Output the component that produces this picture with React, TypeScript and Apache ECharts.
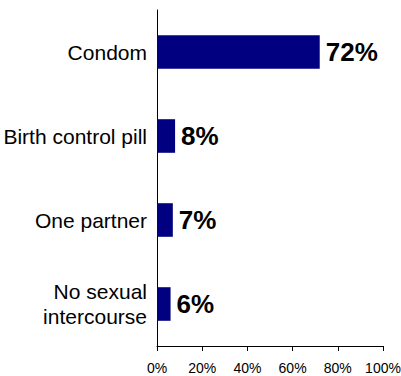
import React, { useEffect, useRef } from "react";
import * as echarts from "echarts";

const categories = ["Condom", "Birth control pill", "One partner", "No sexual\nintercourse"];
const values = [72, 8, 7, 6];
const xTicks = [0, 20, 40, 60, 80, 100];

const FONT = "'Liberation Sans', Arial, Helvetica, sans-serif";

export default function App() {
  const ref = useRef<HTMLDivElement>(null);
  useEffect(() => {
    if (!ref.current) return;
    const chart = echarts.init(ref.current, null, { renderer: "svg" });
    chart.setOption({
      animation: false,
      backgroundColor: "#ffffff",
      textStyle: { fontFamily: FONT },
      grid: { left: 157, right: 18, top: 10, bottom: 30, containLabel: false, outerBoundsMode: "none" },
      xAxis: {
        type: "value",
        min: xTicks[0],
        max: xTicks[xTicks.length - 1],
        interval: 20,
        axisLine: { show: true, lineStyle: { color: "#000", width: 1 } },
        axisTick: { show: true, length: 5, lineStyle: { color: "#000" } },
        splitLine: { show: false },
        axisLabel: {
          formatter: "{value}%",
          color: "#000",
          fontFamily: FONT,
          fontSize: 14,
          margin: 15,
        },
      },
      yAxis: {
        type: "category",
        data: categories,
        inverse: true,
        axisLine: { show: true, lineStyle: { color: "#000", width: 1 } },
        axisTick: { show: false },
        axisLabel: {
          color: "#000",
          fontFamily: FONT,
          fontSize: 21,
          lineHeight: 25,
          margin: 10,
          align: "right",
        },
      },
      series: [
        {
          type: "bar",
          data: values,
          barCategoryGap: "60%",
          itemStyle: { color: "#000080" },
          label: {
            show: true,
            position: "right",
            distance: 6,
            formatter: "{c}%",
            color: "#000",
            fontFamily: FONT,
            fontWeight: "bold",
            fontSize: 26,
          },
        },
      ],
    });
    return () => chart.dispose();
  }, []);
  return <div ref={ref} style={{ width: 401, height: 376, position: "absolute", left: 0, top: 0 }} />;
}
